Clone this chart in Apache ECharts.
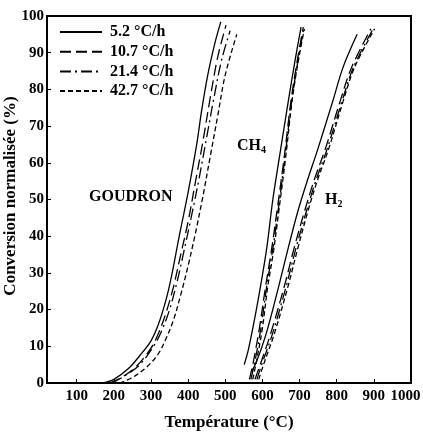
<!DOCTYPE html>
<html>
<head>
<meta charset="utf-8">
<script src="https://cdn.jsdelivr.net/npm/echarts@6/dist/echarts.min.js"></script>
<style>
  html, body { margin: 0; padding: 0; background: #fff; }
  #main { width: 423px; height: 434px; }
</style>
</head>
<body>
<div id="main"></div>
<script>
// heating rates (legend)
var rates = ['5.2 °C/h', '10.7 °C/h', '21.4 °C/h', '42.7 °C/h'];
var xTicks = [100, 200, 300, 400, 500, 600, 700, 800, 900, 1000];

// GOUDRON : [temperature, conversion]
var goudron52 = [[170, 0], [200, 1], [240, 4], [270, 7.5], [300, 11.5], [320, 16], [340, 22.5], [355, 29], [375, 39.5], [400, 52], [423, 65], [436, 74], [452, 83.5], [472, 92.6], [488, 98.4]];
var goudron107 = [[188, 0], [220, 1.5], [260, 4.5], [300, 9.5], [320, 13.5], [340, 19], [360, 26], [380, 35], [400, 44], [420, 55], [440, 66], [460, 78], [480, 89], [502, 97.5]];
var goudron214 = [[195, 0], [230, 2], [270, 5], [310, 10.5], [330, 14.5], [350, 20], [370, 27.5], [390, 36.5], [410, 46], [430, 56], [450, 67], [470, 78], [490, 88], [513, 96]];
var goudron427 = [[215, 0], [250, 1.5], [290, 4.5], [320, 8], [340, 12], [360, 17], [380, 24], [400, 32], [420, 41], [440, 51], [460, 62], [480, 73], [500, 84], [531, 95]];

// CH4
var ch452 = [[551, 5], [562, 9], [580, 18], [596, 27], [612, 37], [628, 50], [648, 63], [670, 77], [688, 88], [704, 97]];
var ch4107 = [[565, 1], [576, 6], [592, 15], [608, 26], [624, 36], [638, 46], [658, 61], [677, 77], [694, 88], [710, 97]];
var ch4214 = [[569, 1], [580, 6], [596, 15], [611, 26], [627, 36], [641, 46], [660, 61], [679, 77], [696, 88], [712, 97]];
var ch4427 = [[574, 1], [586, 7], [600, 15], [614, 26], [630, 36], [643, 46], [662, 61], [680, 77], [697, 88], [713, 96.5]];

// H2
var h252 = [[570, 3], [583, 5.5], [610, 13.4], [643, 26], [670, 37], [696, 47], [722, 55.5], [750, 64], [790, 77], [817, 86], [855, 95]];
var h2107 = [[580, 1], [594, 5], [622, 13.4], [658, 26], [686, 37], [714, 47], [740, 55.5], [770, 64], [810, 77], [840, 86], [892, 96.5]];
var h2214 = [[585, 1], [598, 5], [627, 13.4], [663, 26], [691, 37], [719, 47], [745, 55.5], [775, 64], [815, 77], [845, 86], [898, 96.5]];
var h2427 = [[590, 1], [603, 5], [632, 13.4], [668, 26], [696, 37], [723, 47], [749, 55.5], [779, 64], [818, 77], [848, 86], [902, 96.5]];

var dashes = ['solid', [11, 5], [11, 4, 2, 4], [5, 3]];
var serif = 'Liberation Serif';

function mk(name, data, k) {
    return {
        name: name,
        type: 'line',
        data: data,
        smooth: 0.35,
        symbol: 'none',
        lineStyle: { color: '#000', width: 1.3, type: dashes[k] },
        itemStyle: { color: '#000' }
    };
}

var series = [
    mk(rates[0], goudron52, 0), mk(rates[1], goudron107, 1), mk(rates[2], goudron214, 2), mk(rates[3], goudron427, 3),
    mk(rates[0], ch452, 0), mk(rates[1], ch4107, 1), mk(rates[2], ch4214, 2), mk(rates[3], ch4427, 3),
    mk(rates[0], h252, 0), mk(rates[1], h2107, 1), mk(rates[2], h2214, 2), mk(rates[3], h2427, 3)
];

var chart = echarts.init(document.getElementById('main'));
var option = {
    animation: false,
    backgroundColor: '#fff',
    grid: { left: 47, right: 12, top: 16, bottom: 51, show: true, borderColor: '#000', borderWidth: 2, outerBoundsMode: 'none' },
    legend: {
        orient: 'vertical',
        left: 59,
        top: 24,
        padding: 0,
        itemWidth: 42,
        itemHeight: 14,
        itemGap: 3.7,
        data: rates,
        itemStyle: { color: 'rgba(0,0,0,0)', borderWidth: 0, opacity: 0 },
        textStyle: { fontFamily: serif, fontWeight: 'bold', fontSize: 16, color: '#000', padding: [0, 0, 0, 3] }
    },
    xAxis: {
        type: 'value',
        min: 20,
        max: 1000,
        name: 'Température (°C)',
        nameLocation: 'middle',
        nameGap: 31,
        nameTextStyle: { fontFamily: serif, fontWeight: 'bold', fontSize: 17, color: '#000' },
        axisLine: { lineStyle: { color: '#000', width: 2 } },
        axisTick: { inside: true, length: 4, customValues: xTicks, lineStyle: { color: '#000' } },
        axisLabel: {
            customValues: xTicks, margin: 6, fontFamily: serif, fontWeight: 'bold', fontSize: 15, color: '#000',
            formatter: function (v) { return v === 1000 ? '{r|1000}' : String(v); },
            rich: { r: { fontFamily: serif, fontWeight: 'bold', fontSize: 15, color: '#000', padding: [0, 11, 0, 0] } }
        },
        splitLine: { show: false }
    },
    yAxis: {
        type: 'value',
        min: 0,
        max: 100,
        interval: 10,
        axisLine: { lineStyle: { color: '#000', width: 2 } },
        axisTick: { inside: true, length: 4, lineStyle: { color: '#000' } },
        axisLabel: { margin: 3, fontFamily: serif, fontWeight: 'bold', fontSize: 15, color: '#000' },
        splitLine: { show: false }
    },
    graphic: [
        {
            type: 'text', x: 11, y: 196, rotation: Math.PI / 2,
            style: {
                text: 'Conversion normalisée (%)', font: 'bold 17px "Liberation Serif"', fill: '#000',
                align: 'center', verticalAlign: 'middle'
            }
        },
        {
            type: 'text', left: 89, top: 189,
            style: { text: 'GOUDRON', font: 'bold 16px "Liberation Serif"', fill: '#000' }
        },
        {
            type: 'text', left: 237, top: 138,
            style: {
                text: '{a|CH}{s|4}',
                rich: {
                    a: { fontFamily: serif, fontWeight: 'bold', fontSize: 16, fill: '#000' },
                    s: { fontFamily: serif, fontWeight: 'bold', fontSize: 10, fill: '#000', padding: [9, 0, 0, 0] }
                }
            }
        },
        {
            type: 'text', left: 325, top: 192,
            style: {
                text: '{a|H}{s|2}',
                rich: {
                    a: { fontFamily: serif, fontWeight: 'bold', fontSize: 16, fill: '#000' },
                    s: { fontFamily: serif, fontWeight: 'bold', fontSize: 10, fill: '#000', padding: [9, 0, 0, 0] }
                }
            }
        }
    ],
    series: series
};
chart.setOption(option);
</script>
</body>
</html>
